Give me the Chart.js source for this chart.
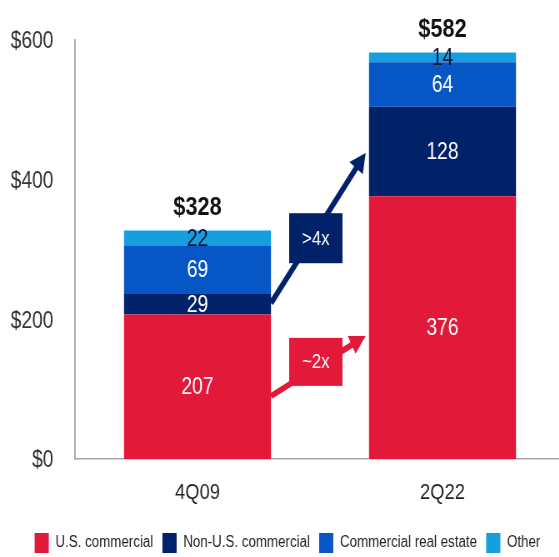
<!DOCTYPE html>
<html>
<head>
<meta charset="utf-8">
<script src="https://cdn.jsdelivr.net/npm/chart.js@4.4.1/dist/chart.umd.min.js"></script>
<style>
html, body { margin: 0; padding: 0; background: #fff; overflow: hidden; }
/* the original artwork is horizontally condensed, so draw wide and squeeze */
#wrap { width: 680px; height: 557px; position: relative; transform: scaleX(0.8333); transform-origin: 0 0; }
</style>
</head>
<body>
<div id="wrap"><canvas id="c"></canvas></div>
<script>
// data
const quarters = ["4Q09", "2Q22"]
const us_commercial = [207, 376]
const non_us_commercial = [29, 128]
const commercial_real_estate = [69, 64]
const other = [22, 14]
const total_labels = ["$328", "$582"]
const y_ticks = [0, 200, 400, 600]
const growth_labels = [">4x", "~2x"]

const font_family = "'Liberation Sans', Arial, sans-serif"
const red = "#e3193a"
const navy = "#012169"
const blue = "#0756c6"
const light_blue = "#169fe0"

// arrow anchors, in axis values (start on 4Q09, tip on 2Q22) and box centres
const growth_arrows = [
    {color: navy, from: 223, to: 438, box: 316, boxH: 50},
    {color: red, from: 90, to: 176, box: 139, boxH: 48}
]

function draw_arrow(ctx, x1, y1, x2, y2, color){
    let ang = Math.atan2(y2 - y1, x2 - x1)
    let head = 19
    let half = 10
    let bx = x2 - Math.cos(ang) * head
    let by = y2 - Math.sin(ang) * head
    ctx.strokeStyle = color
    ctx.lineWidth = 6
    ctx.beginPath()
    ctx.moveTo(x1, y1)
    ctx.lineTo(bx + Math.cos(ang) * 2, by + Math.sin(ang) * 2)
    ctx.stroke()
    ctx.fillStyle = color
    ctx.beginPath()
    ctx.moveTo(x2, y2)
    ctx.lineTo(bx + Math.sin(ang) * half, by - Math.cos(ang) * half)
    ctx.lineTo(bx - Math.sin(ang) * half, by + Math.cos(ang) * half)
    ctx.closePath()
    ctx.fill()
}

const bar_labels = {
    id: "bar_labels",
    afterDatasetsDraw(chart){
        const ctx = chart.ctx
        const y = chart.scales.y
        ctx.save()
        ctx.textAlign = "center"
        ctx.textBaseline = "middle"

        // segment values
        chart.data.datasets.forEach((ds, di) => {
            chart.getDatasetMeta(di).data.forEach((el, i) => {
                ctx.font = "23px " + font_family
                ctx.fillStyle = di == 3 ? "#0d1733" : "#ffffff"
                ctx.fillText(ds.data[i], el.x, (el.y + el.base) / 2 + 1)
            })
        })

        // totals above bars
        const top_meta = chart.getDatasetMeta(3)
        top_meta.data.forEach((el, i) => {
            ctx.font = "bold 26px " + font_family
            ctx.fillStyle = "#111"
            ctx.fillText(total_labels[i], el.x, el.y - 23)
        })

        // growth arrows + boxes
        const b1 = top_meta.data[0]
        const b2 = top_meta.data[1]
        const left_x = b1.x + b1.width / 2
        const right_x = b2.x - b2.width / 2 - 4
        const box_cx = (left_x + right_x) / 2 - 3
        growth_arrows.forEach((a, i) => {
            draw_arrow(ctx, left_x, y.getPixelForValue(a.from), right_x, y.getPixelForValue(a.to), a.color)
            const cy = y.getPixelForValue(a.box)
            ctx.fillStyle = a.color
            ctx.fillRect(box_cx - 32, cy - a.boxH / 2, 64, a.boxH)
            ctx.font = "20px " + font_family
            ctx.fillStyle = "#ffffff"
            ctx.fillText(growth_labels[i], box_cx, cy + 1)
        })
        ctx.restore()
    }
}

const chart = new Chart(document.getElementById("c"), {
    type: "bar",
    data: {
        labels: quarters,
        datasets: [
            {label: "U.S. commercial", data: us_commercial, backgroundColor: red},
            {label: "Non-U.S. commercial", data: non_us_commercial, backgroundColor: navy},
            {label: "Commercial real estate", data: commercial_real_estate, backgroundColor: blue},
            {label: "Other", data: other, backgroundColor: light_blue}
        ]
    },
    options: {
        responsive: true,
        maintainAspectRatio: false,
        animation: false,
        barPercentage: 0.6,
        categoryPercentage: 1,
        layout: {padding: {left: 12, top: 37, right: 2, bottom: -6}},
        plugins: {
            legend: {
                position: "bottom",
                labels: {
                    boxWidth: 17,
                    boxHeight: 20,
                    padding: 11,
                    color: "#222",
                    font: {family: font_family, size: 16}
                }
            },
            tooltip: {enabled: false}
        },
        scales: {
            x: {
                stacked: true,
                grid: {display: false, drawTicks: false},
                border: {display: true, color: "#a6a6a6", width: 1.6},
                ticks: {color: "#222", padding: 21, font: {family: font_family, size: 22}},
                afterFit(scale){ scale.height = 63 }
            },
            y: {
                stacked: true,
                min: 0,
                max: 600,
                afterBuildTicks(scale){ scale.ticks = y_ticks.map(v => ({value: v})) },
                grid: {display: false, drawTicks: false},
                border: {display: true, color: "#a6a6a6", width: 1.8},
                ticks: {
                    color: "#333",
                    padding: 26,
                    labelOffset: 2,
                    font: {family: font_family, size: 23},
                    callback: v => "$" + v
                },
                afterFit(scale){ scale.width = 78 }
            }
        }
    },
    plugins: [bar_labels]
})
</script>
</body>
</html>
